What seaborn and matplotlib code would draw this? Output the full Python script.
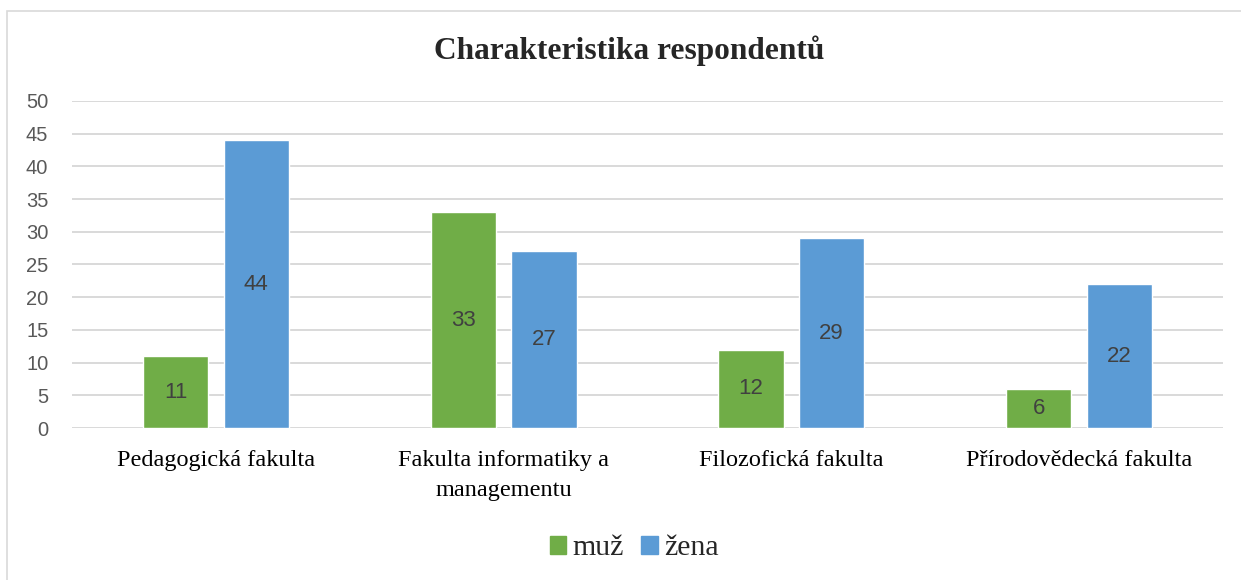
import seaborn as sns
import matplotlib.pyplot as plt
import pandas as pd
from matplotlib.patches import Rectangle

# data
fakulty = ["Pedagogická fakulta", "Fakulta informatiky a\nmanagementu",
           "Filozofická fakulta", "Přírodovědecká fakulta"]
muz = [11, 33, 12, 6]
zena = [44, 27, 29, 22]
pohlavi = ["muž", "žena"]
barvy = ["#70AD47", "#5B9BD5"]

df = pd.DataFrame({
    "fakulta": fakulty * 2,
    "pohlavi": [pohlavi[0]] * 4 + [pohlavi[1]] * 4,
    "pocet": muz + zena,
})

sns.set_theme(style="white")
fig = plt.figure(figsize=(12.41, 5.80), dpi=100)
ax = fig.add_axes([0.058, 0.262, 0.9275, 0.564])

sns.barplot(data=df, x="fakulta", y="pocet", hue="pohlavi", order=fakulty,
            hue_order=pohlavi, palette=barvy, width=0.56, gap=0.19,
            saturation=1, ax=ax, legend=False)

# value labels inside bars
for cont in ax.containers:
    ax.bar_label(cont, label_type="center", fontsize=16, color="#404040",
                 family="Liberation Sans")

ax.set_ylim(0, 50)
ax.set_yticks(range(0, 51, 5))
ax.set_xlim(-0.5, 3.5)
ax.yaxis.grid(True, color="#d9d9d9", linewidth=1.4)
ax.set_axisbelow(True)
for s in ax.spines.values():
    s.set_visible(False)
ax.tick_params(axis="y", length=0, pad=17, labelsize=14.5, labelcolor="#595959")
ax.tick_params(axis="x", length=0, pad=16)
for lbl in ax.get_yticklabels():
    lbl.set_family("Liberation Sans")
for lbl in ax.get_xticklabels():
    lbl.set_family("Liberation Serif")
    lbl.set_fontsize(17.5)
    lbl.set_color("black")
    lbl.set_linespacing(1.55)
ax.set_xlabel("")
ax.set_ylabel("")

fig.text(0.507, 0.912, "Charakteristika respondentů", ha="center", va="center",
         fontsize=22.6, fontweight="bold", family="Liberation Serif")

# legend
handles = [Rectangle((0, 0), 1, 1, color=c) for c in barvy]
fig.legend(handles, pohlavi, loc="center", bbox_to_anchor=(0.511, 0.055),
           ncol=2, frameon=False, handlelength=0.55, handleheight=0.55,
           handletextpad=0.2, columnspacing=0.6,
           prop={"family": "Liberation Serif", "size": 21.5})

# chart border (cut at right/bottom like the original)
fig.patches.append(Rectangle((7 / 1241, -0.1), 2, 1.1 - 11 / 580,
                             transform=fig.transFigure, fill=False,
                             edgecolor="#d9d9d9", linewidth=1.2))

fig.savefig("out.png", dpi=100)
